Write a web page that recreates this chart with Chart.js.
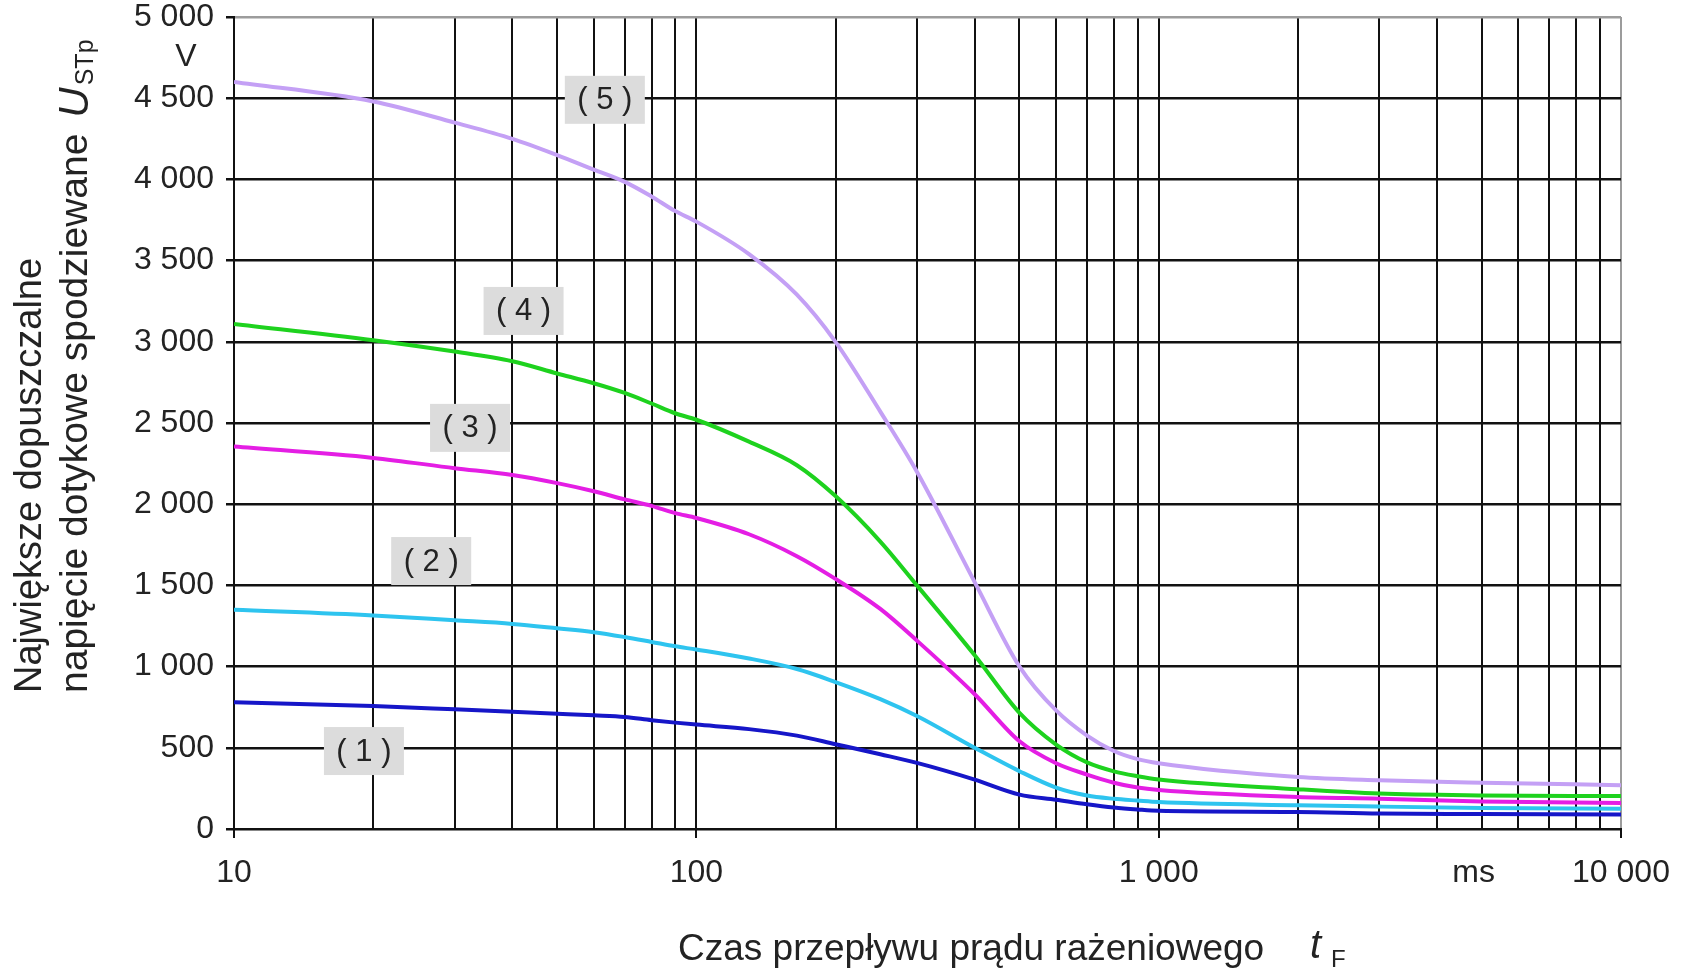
<!DOCTYPE html>
<html lang="pl">
<head>
  <meta charset="UTF-8">
  <title>Największe dopuszczalne napięcie dotykowe spodziewane</title>
  <script src="https://cdn.jsdelivr.net/npm/chart.js@4.4.0/dist/chart.umd.min.js"></script>
  <style>
    html, body { margin: 0; padding: 0; background: #fff; }
    #wrap { width: 1694px; height: 971px; }
  </style>
</head>
<body>
  <div id="wrap"><canvas id="chart" width="1694" height="971"></canvas></div>

  <script>
    // czas przepływu prądu t_F [ms]
    const czasy = [10, 20, 30, 40, 50, 60, 70, 80, 90, 100, 130, 165, 200, 250, 300, 400, 500, 600, 700, 800, 900, 1000, 2000, 3000, 5000, 10000];

    // U_STp [V], krzywe (1)..(5)
    const krzywa1 = [780, 757, 737, 722, 710, 700, 690, 670, 655, 643, 615, 575, 522, 460, 407, 304, 212, 180, 152, 132, 120, 112, 105, 95, 92, 90];
    const krzywa2 = [1350, 1315, 1285, 1263, 1236, 1212, 1182, 1152, 1125, 1105, 1050, 985, 905, 800, 696, 500, 356, 255, 206, 186, 175, 166, 146, 138, 130, 125];
    const krzywa3 = [2355, 2285, 2222, 2180, 2130, 2080, 2030, 1990, 1945, 1915, 1815, 1680, 1540, 1355, 1160, 830, 540, 405, 335, 285, 255, 240, 197, 187, 170, 160];
    const krzywa4 = [3110, 3010, 2940, 2880, 2805, 2745, 2685, 2620, 2560, 2520, 2385, 2240, 2050, 1770, 1500, 1070, 715, 520, 410, 355, 325, 305, 245, 218, 207, 203];
    const krzywa5 = [4600, 4480, 4350, 4250, 4150, 4060, 3985, 3895, 3805, 3740, 3540, 3290, 3000, 2570, 2200, 1520, 1000, 730, 575, 480, 430, 405, 320, 300, 285, 270];

    const nazwyKrzywych = ['( 1 )', '( 2 )', '( 3 )', '( 4 )', '( 5 )'];
    const koloryKrzywych = ['#1616c8', '#2ec4ef', '#e41ee4', '#1ed21e', '#c4a0f5'];
    // gdzie stoją opisy krzywych (w jednostkach wykresu: ms, V)
    const opisyT = [19.1, 26.7, 32.4, 42.3, 63.4];
    const opisyU = [480, 1650, 2470, 3190, 4490];

    // linie siatki osi czasu i podpisy dekad
    const siatkaX = [10, 20, 30, 40, 50, 60, 70, 80, 90, 100, 200, 300, 400, 500, 600, 700, 800, 900,
                     1000, 2000, 3000, 4000, 5000, 6000, 7000, 8000, 9000, 10000];
    const dekadyX = [10, 100, 1000, 10000];
    const podpisyX = ['10', '100', '1 000', '10 000'];
    const jednostkaXPoz = 4800;   // "ms" między 4000 a 5000

    const FONT = "'Liberation Sans', Arial, Helvetica, sans-serif";
    const TXT = '#232323';

    function tysiace(v) {
      return String(v).replace(/\B(?=(\d{3})+(?!\d))/g, ' ');
    }

    const zbiory = [krzywa1, krzywa2, krzywa3, krzywa4, krzywa5].map((dane, i) => ({
      label: nazwyKrzywych[i],
      data: dane.map((u, j) => ({ x: czasy[j], y: u })),
      borderColor: koloryKrzywych[i],
      borderWidth: 4,
      pointRadius: 0,
      fill: false,
      cubicInterpolationMode: 'monotone'
    }));

    // opisy (1)..(5), jednostki i tytuły osi
    const opisy = {
      id: 'opisy',
      afterDatasetsDraw(chart) {
        const { ctx, scales: { x, y } } = chart;
        ctx.save();
        opisyT.forEach((t, i) => {
          const px = x.getPixelForValue(t);
          const py = y.getPixelForValue(opisyU[i]);
          ctx.fillStyle = '#dcdcdc';
          ctx.fillRect(px - 40, py - 24, 80, 48);
          ctx.fillStyle = TXT;
          ctx.font = '31px ' + FONT;
          ctx.textAlign = 'center';
          ctx.textBaseline = 'middle';
          ctx.fillText(nazwyKrzywych[i], px, py + 1);
        });
        ctx.restore();
      },
      afterDraw(chart) {
        const { ctx, chartArea, scales: { x, y } } = chart;
        ctx.save();
        ctx.fillStyle = TXT;

        // V pod 5 000
        ctx.font = '32px ' + FONT;
        ctx.textAlign = 'center';
        ctx.textBaseline = 'middle';
        ctx.fillText('V', 186, y.getPixelForValue(5000) + 40);

        // ms w rzędzie podpisów osi X
        ctx.fillText('ms', x.getPixelForValue(jednostkaXPoz), chartArea.bottom + 44);

        // tytuł osi X
        ctx.textAlign = 'left';
        ctx.textBaseline = 'alphabetic';
        ctx.font = '37px ' + FONT;
        ctx.fillText('Czas przepływu prądu rażeniowego', 678, 960);
        ctx.font = 'italic 40px ' + FONT;
        ctx.fillText('t', 1310, 958);
        ctx.font = '24px ' + FONT;
        ctx.fillText('F', 1331, 967);

        // tytuł osi Y (dwie linie, obrócone)
        ctx.save();
        ctx.translate(31, 693);
        ctx.rotate(-Math.PI / 2);
        ctx.font = '38px ' + FONT;
        ctx.textBaseline = 'middle';
        ctx.fillText('Największe dopuszczalne', 0, 0);
        ctx.restore();

        ctx.save();
        ctx.translate(76, 693);
        ctx.rotate(-Math.PI / 2);
        ctx.font = '39px ' + FONT;
        ctx.textBaseline = 'middle';
        const linia2 = 'napięcie dotykowe spodziewane';
        ctx.fillText(linia2, 0, 0);
        let pos = ctx.measureText(linia2).width + 16;
        ctx.font = 'italic 42px ' + FONT;
        ctx.fillText('U', pos, 0);
        pos += ctx.measureText('U').width + 2;
        ctx.font = '25px ' + FONT;
        ctx.fillText('STp', pos, 10);
        ctx.restore();

        ctx.restore();
      }
    };

    const ctx = document.getElementById('chart').getContext('2d');
    new Chart(ctx, {
      type: 'line',
      data: { datasets: zbiory },
      plugins: [opisy],
      options: {
        responsive: false,
        animation: false,
        devicePixelRatio: 1,
        layout: { padding: { left: 0, top: 17, right: 73, bottom: 0 } },
        plugins: {
          legend: { display: false },
          tooltip: { enabled: false }
        },
        scales: {
          x: {
            type: 'logarithmic',
            min: 10,
            max: 10000,
            afterBuildTicks: axis => { axis.ticks = siatkaX.map(v => ({ value: v })); },
            afterFit: scale => {
              scale.height = 142;
              scale.paddingLeft = 0;
              scale.paddingRight = 0;
            },
            ticks: {
              autoSkip: false,
              maxRotation: 0,
              padding: 16,
              color: TXT,
              font: { family: FONT, size: 32 },
              callback: v => {
                const i = dekadyX.indexOf(v);
                return i >= 0 ? podpisyX[i] : '';
              }
            },
            grid: {
              color: c => (c.tick && c.tick.value === 10000) ? '#9c9c9c' : '#111111',
              lineWidth: 2,
              tickLength: 9,
              tickColor: c => (c.tick && dekadyX.includes(c.tick.value)) ? '#111111' : 'rgba(0,0,0,0)'
            },
            border: { display: true, color: '#111111', width: 2 }
          },
          y: {
            min: 0,
            max: 5000,
            afterFit: scale => {
              scale.width = 234;
              scale.paddingTop = 0;
              scale.paddingBottom = 0;
            },
            ticks: {
              stepSize: 500,
              padding: 12,
              color: TXT,
              font: { family: FONT, size: 32, lineHeight: 1 },
              callback: v => tysiace(v)
            },
            grid: {
              color: c => (c.tick && c.tick.value === 5000) ? '#9c9c9c' : '#111111',
              lineWidth: 2.5,
              tickLength: 8,
              tickColor: '#111111'
            },
            border: { display: true, color: '#111111', width: 2 }
          }
        }
      }
    });
  </script>
</body>
</html>
